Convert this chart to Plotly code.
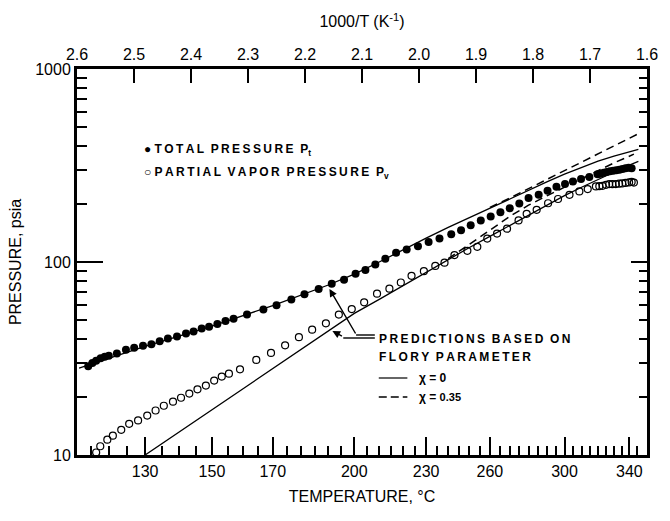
import plotly.graph_objects as go

# ---------------- data ----------------
temp_tick_labels = [130, 150, 170, 200, 230, 260, 300, 340]
temp_minor = [115, 120, 125, 135, 140, 145, 155, 160, 165, 175, 180, 185, 190, 195,
              205, 210, 215, 220, 225, 235, 240, 245, 250, 255, 265, 270, 275, 280,
              285, 290, 295, 305, 310, 315, 320, 325, 330, 335, 345]
inv_tick_labels = [2.6, 2.5, 2.4, 2.3, 2.2, 2.1, 2.0, 1.9, 1.8, 1.7, 1.6]

# total pressure Pt (filled circles), temperature in degC, pressure in psia
pt_T = [114.4, 115.5, 116.5, 117.7, 118.8, 119.9, 122.1, 124.6, 126.9, 129.4, 131.8,
        134.2, 136.6, 139.3, 142.0, 144.3, 146.8, 149.1, 151.7, 154.3, 156.9, 161.3,
        166.8, 171.3, 176.5, 181.2, 186.4, 191.3, 196.0, 200.5, 204.4, 208.4, 212.5,
        217.0, 221.5, 226.4, 231.1, 236.0, 241.4, 246.0, 250.6, 255.5, 260.4, 265.3,
        270.1, 275.1, 280.0, 285.5, 290.4, 295.4, 300.3, 304.9, 309.7, 314.7, 319.7,
        321.5, 323.5, 325.5, 327.5, 329.5, 331.5, 333.5, 335.5, 337.5, 339.5, 341.5]
pt_P = [28.8, 30.0, 30.8, 31.7, 32.3, 32.7, 33.6, 35.1, 35.9, 36.8, 37.5,
        38.8, 40.1, 41.1, 42.6, 43.7, 45.2, 46.2, 47.7, 49.4, 50.8, 53.5,
        56.7, 59.7, 63.9, 68.0, 72.4, 77.1, 80.9, 86.8, 91.0, 97.0, 104.0,
        111.6, 116.2, 120.8, 127.1, 132.3, 139.2, 146.0, 154.8, 164.2, 172.2, 181.1,
        189.8, 201.1, 214.6, 223.0, 234.0, 245.4, 253.5, 261.5, 268.8, 276.0, 284.9,
        287.0, 290.0, 293.0, 295.0, 297.0, 299.0, 301.0, 303.0, 306.0, 308.0, 306.0]

# partial vapor pressure Pv (open circles)
pv_T = [116.5, 117.6, 119.5, 121.0, 123.3, 125.5, 128.0, 130.6, 133.0, 135.4, 138.1,
        140.5, 143.0, 145.5, 148.1, 150.7, 153.1, 155.4, 159.0, 164.4, 169.4, 174.3,
        179.2, 184.0, 189.1, 194.0, 199.0, 203.9, 209.1, 214.2, 219.0, 223.6, 229.0,
        234.1, 238.3, 242.9, 249.0, 253.8, 258.7, 263.6, 268.7, 274.7, 279.0, 284.4,
        290.7, 296.3, 302.9, 308.7, 313.7, 318.7, 320.8, 322.8, 325.0, 327.0, 329.0,
        331.2, 333.3, 335.3, 337.5, 339.8, 341.5, 343.0]
pv_P = [10.3, 11.1, 12.0, 12.6, 13.5, 14.5, 15.1, 16.0, 17.0, 18.0, 18.9,
        19.8, 20.8, 21.9, 22.9, 24.3, 25.5, 26.4, 27.8, 31.1, 33.8, 37.0,
        40.8, 44.6, 48.1, 53.4, 57.0, 61.8, 68.5, 72.7, 78.3, 84.8, 89.6,
        95.4, 99.2, 108.6, 114.3, 119.8, 132.3, 140.3, 148.8, 164.2, 177.6, 186.3,
        201.6, 212.0, 223.0, 232.2, 238.7, 246.3, 247.0, 248.2, 251.0, 253.5, 253.0,
        253.5, 254.5, 255.3, 257.0, 258.3, 260.0, 258.0]

# Flory-parameter predictions
pred_pt0_T = [112, 130, 150, 170, 190, 200, 210, 220, 230, 240, 250, 260, 270, 280,
              290, 300, 310, 320, 330, 340, 346]
pred_pt0_P = [28.2, 36.5, 46.5, 59.5, 76.0, 86.5, 100.0, 116.0, 133.0, 151.0, 170.0,
              191.0, 213.0, 236.0, 260.0, 285.0, 310.0, 333.0, 354.0, 372.0, 383.0]
pred_pt35_T = [260, 270, 280, 290, 300, 310, 320, 330, 340, 346]
pred_pt35_P = [192.0, 214.0, 240.0, 268.0, 298.0, 330.0, 365.0, 402.0, 440.0, 462.0]
pred_pv0_T = [130, 150, 170, 190, 200, 210, 220, 230, 240, 250, 260, 270, 280, 290,
              300, 310, 320, 330, 340, 346]
pred_pv0_P = [10.0, 17.2, 28.0, 43.9, 54.2, 64.0, 75.5, 88.4, 102.9, 118.9, 135.8,
              154.4, 174.6, 196.8, 220.7, 244.0, 268.0, 293.0, 318.0, 332.0]
pred_pv35_T = [240, 250, 260, 270, 280, 290, 300, 310, 320, 330, 343]
pred_pv35_P = [104.0, 123.0, 146.0, 172.0, 197.0, 220.0, 244.0, 269.0, 296.0, 326.0, 362.0]


def inv(temps):
    return [1000.0 / (t + 273.15) for t in temps]


# plot-area geometry in pixels (for annotation placement)
L, R, T, B = 77, 655, 69, 455
W, H = R - L, B - T


def px(x):
    return (x - L) / W


def py(y):
    return (B - y) / H


def spaced(s):
    return "  ".join("\u2009".join(word) for word in s.split(" "))


FONT = "Liberation Sans"
LEG = dict(family=FONT, size=12, color="black")

fig = go.Figure()

solid = dict(color="black", width=1.3)
dashed = dict(color="black", width=1.5, dash="8px,5px")
fig.add_trace(go.Scatter(x=inv(pred_pv0_T), y=pred_pv0_P, mode="lines", line=solid,
                         showlegend=False, hoverinfo="skip"))
fig.add_trace(go.Scatter(x=inv(pred_pv35_T), y=pred_pv35_P, mode="lines", line=dashed,
                         showlegend=False, hoverinfo="skip"))
fig.add_trace(go.Scatter(x=inv(pred_pt0_T), y=pred_pt0_P, mode="lines", line=solid,
                         showlegend=False, hoverinfo="skip"))
fig.add_trace(go.Scatter(x=inv(pred_pt35_T), y=pred_pt35_P, mode="lines", line=dashed,
                         showlegend=False, hoverinfo="skip"))
fig.add_trace(go.Scatter(x=inv(pt_T), y=pt_P, mode="markers",
                         marker=dict(size=8, color="black", symbol="circle"), showlegend=False))
fig.add_trace(go.Scatter(x=inv(pv_T), y=pv_P, mode="markers",
                         marker=dict(size=7, color="black", symbol="circle-open",
                                     line=dict(width=1.2, color="black")), showlegend=False))
# invisible trace to activate secondary (top/right) axes
fig.add_trace(go.Scatter(x=[2.0], y=[100], xaxis="x2", yaxis="y2", mode="markers",
                         marker=dict(opacity=0), showlegend=False, hoverinfo="skip"))

axis_common = dict(showline=True, linewidth=3, linecolor="black", showgrid=False,
                   zeroline=False, tickcolor="black", ticks="inside",
                   tickfont=dict(family=FONT, size=16, color="black"))

fig.update_layout(
    width=670, height=521,
    margin=dict(l=L, r=670 - R, t=T, b=521 - B),
    paper_bgcolor="white", plot_bgcolor="white",
    xaxis=dict(**axis_common, range=[2.6, 1.6], tickmode="array",
               tickvals=inv(temp_tick_labels), ticktext=[str(t) for t in temp_tick_labels],
               ticklen=18, tickwidth=2,
               minor=dict(tickvals=inv(temp_minor), ticklen=9, tickwidth=1.5,
                          ticks="inside", tickcolor="black"),
               title=dict(text="TEMPERATURE, °C", font=dict(family=FONT, size=16, color="black"),
                          standoff=12)),
    xaxis2=dict(**axis_common, range=[2.6, 1.6], overlaying="x", side="top", anchor="y",
                tickmode="array", tickvals=inv_tick_labels,
                ticktext=["%.1f" % v for v in inv_tick_labels],
                ticklen=14, tickwidth=2,
                title=dict(text="1000/T (K<sup>-1</sup>)",
                           font=dict(family=FONT, size=16, color="black"), standoff=14)),
    yaxis=dict(**axis_common, type="log", range=[1, 3], tickmode="array",
               tickvals=[10, 100, 1000], ticktext=["10", "100", "1000"],
               ticklen=26, tickwidth=2,
               minor=dict(tickvals=[20, 30, 40, 50, 60, 70, 80, 90, 200, 300, 400, 500, 600,
                                    700, 800, 900],
                          ticklen=10, tickwidth=1.5, ticks="inside", tickcolor="black"),
               title=dict(text="PRESSURE, psia", font=dict(family=FONT, size=16, color="black"),
                          standoff=10)),
    yaxis2=dict(**axis_common, type="log", range=[1, 3], overlaying="y", side="right",
                anchor="x", tickmode="array", tickvals=[10, 100, 1000],
                showticklabels=False, ticklen=16, tickwidth=2,
                minor=dict(tickvals=[20, 30, 40, 50, 60, 70, 80, 90, 200, 300, 400, 500, 600,
                                     700, 800, 900],
                           ticklen=8, tickwidth=1.5, ticks="inside", tickcolor="black")),
)

ann = []
ann.append(dict(xref="paper", yref="paper", x=px(143), y=py(150), xanchor="left",
                yanchor="middle", showarrow=False, font=LEG,
                text="<b>● " + spaced("TOTAL PRESSURE") + "  P<sub>t</sub></b>"))
ann.append(dict(xref="paper", yref="paper", x=px(143), y=py(173), xanchor="left",
                yanchor="middle", showarrow=False, font=LEG,
                text="<b>○ " + spaced("PARTIAL VAPOR PRESSURE") + "  P<sub>v</sub></b>"))
ann.append(dict(xref="paper", yref="paper", x=px(381), y=py(339), xanchor="left",
                yanchor="middle", showarrow=False, font=LEG,
                text="<b>" + spaced("PREDICTIONS BASED ON") + "</b>"))
ann.append(dict(xref="paper", yref="paper", x=px(381), y=py(357), xanchor="left",
                yanchor="middle", showarrow=False, font=LEG,
                text="<b>" + spaced("FLORY PARAMETER") + "</b>"))
ann.append(dict(xref="paper", yref="paper", x=px(422), y=py(378), xanchor="left",
                yanchor="middle", showarrow=False, font=LEG,
                text="<b>χ = 0</b>"))
ann.append(dict(xref="paper", yref="paper", x=px(422), y=py(397), xanchor="left",
                yanchor="middle", showarrow=False, font=LEG,
                text="<b>χ = <span style='font-size:11px'>0.35</span></b>"))
# arrows
ann.append(dict(xref="paper", yref="paper", x=px(333), y=py(289), ax=27, ay=46,
                showarrow=True, arrowhead=2, arrowsize=1.1, arrowwidth=1.4,
                arrowcolor="black", text=""))
ann.append(dict(xref="paper", yref="paper", x=px(336), y=py(331), ax=11, ay=6,
                showarrow=True, arrowhead=2, arrowsize=1.1, arrowwidth=1.4,
                arrowcolor="black", text=""))
fig.update_layout(annotations=ann)

shapes = [
    dict(type="line", xref="paper", yref="paper", x0=px(360), x1=px(379), y0=py(335),
         y1=py(335), line=dict(color="black", width=1.4)),
    dict(type="line", xref="paper", yref="paper", x0=px(347), x1=px(379), y0=py(338),
         y1=py(338), line=dict(color="black", width=1.4)),
    dict(type="line", xref="paper", yref="paper", x0=px(383), x1=px(412), y0=py(378),
         y1=py(378), line=dict(color="black", width=1.2)),
    dict(type="line", xref="paper", yref="paper", x0=px(383), x1=px(412), y0=py(397),
         y1=py(397), line=dict(color="black", width=1.6, dash="8px,4px")),
]
fig.update_layout(shapes=shapes)

fig.write_html("out.html")
